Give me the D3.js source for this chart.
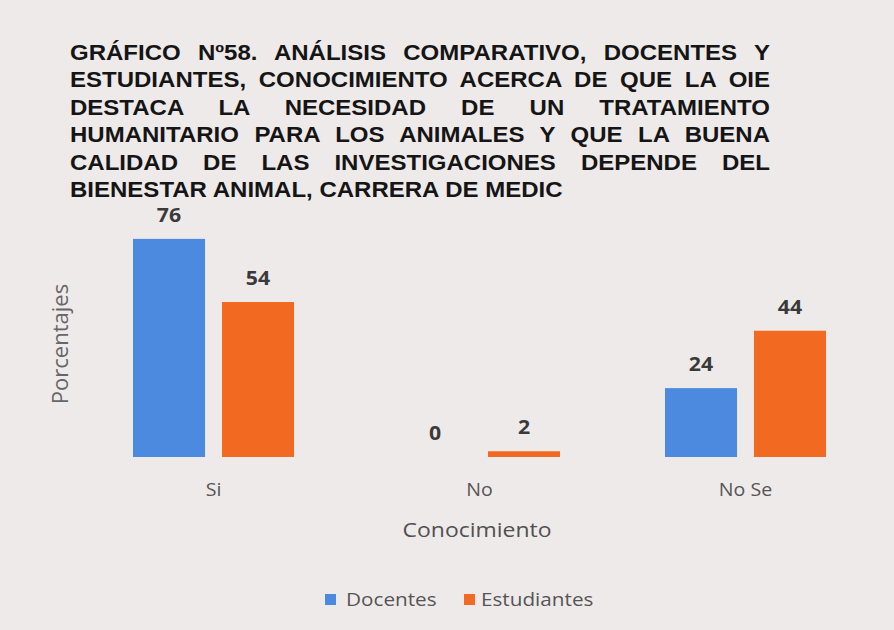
<!DOCTYPE html>
<html>
<head>
<meta charset="utf-8">
<script src="https://cdn.jsdelivr.net/npm/d3@7"></script>
<style>
  body { margin: 0; background: #efeaea; }
  svg { display: block; }
</style>
</head>
<body>
<div id="chart"></div>
<script>
// chart data
var categories = ["Si", "No", "No Se"];
var seriesNames = ["Docentes", "Estudiantes"];
var docentes = [76, 0, 24];
var estudiantes = [54, 2, 44];
var titleLines = [
  "GRÁFICO Nº58. ANÁLISIS COMPARATIVO, DOCENTES Y",
  "ESTUDIANTES, CONOCIMIENTO ACERCA DE QUE LA OIE",
  "DESTACA LA NECESIDAD DE UN TRATAMIENTO",
  "HUMANITARIO PARA LOS ANIMALES Y QUE LA BUENA",
  "CALIDAD DE LAS INVESTIGACIONES DEPENDE DEL",
  "BIENESTAR ANIMAL, CARRERA DE MEDIC"
];

var width = 894, height = 630;
var colors = d3.scaleOrdinal().domain(seriesNames).range(["#4c8ae0", "#f26a22"]);
var labelFont = "'Open Sans', 'Noto Sans', sans-serif";
var stretch = 1.12; // the scanned original is a bit wider than tall

var svg = d3.select("#chart").append("svg")
  .attr("width", width)
  .attr("height", height);

svg.append("rect")
  .attr("width", width).attr("height", height)
  .attr("fill", "#efeaea");

// justified title, last line sets the horizontal scale
var titleLeft = 70, titleRight = 770, lastLineEnd = 563;
var titleTop = 60, lineGap = 27.4;
var title = svg.append("g")
  .attr("font-family", "'Liberation Sans', Arial, sans-serif")
  .attr("font-weight", "bold")
  .attr("font-size", 21.5)
  .attr("fill", "#151515");

var lastText = title.append("text").text(titleLines[titleLines.length - 1]);
var sx = (lastLineEnd - titleLeft) / lastText.node().getComputedTextLength();
lastText.remove();

titleLines.forEach(function(line, i) {
  var t = title.append("text")
    .attr("transform", "translate(" + titleLeft + "," + (titleTop + i * lineGap) + ") scale(" + sx + ",1)")
    .text(line);
  if (i < titleLines.length - 1) {
    var words = line.split(" ");
    var w = t.node().getComputedTextLength();
    var extra = ((titleRight - titleLeft) / sx - w) / (words.length - 1);
    t.attr("word-spacing", extra);
  }
});

// scales
var x0 = d3.scaleBand()
  .domain(categories)
  .range([80.5, 878.5]);

var x1 = d3.scaleBand()
  .domain(seriesNames)
  .range([0, x0.bandwidth()])
  .paddingInner(0.19)
  .paddingOuter(0.59);

var y = d3.scaleLinear()
  .domain([0, 80])
  .range([457, 457 - 80 * 2.87]);

var rows = [];
categories.forEach(function(c, i) {
  rows.push({cat: c, series: "Docentes", value: docentes[i]});
  rows.push({cat: c, series: "Estudiantes", value: estudiantes[i]});
});

function place(x, yy) {
  return "translate(" + x + "," + yy + ") scale(" + stretch + ",1)";
}

// bars
svg.append("g").selectAll("rect")
  .data(rows)
  .enter().append("rect")
    .attr("x", function(d) { return x0(d.cat) + x1(d.series); })
    .attr("y", function(d) { return y(d.value); })
    .attr("width", x1.bandwidth())
    .attr("height", function(d) { return y(0) - y(d.value); })
    .attr("fill", function(d) { return colors(d.series); });

// value labels
svg.append("g").selectAll("text")
  .data(rows)
  .enter().append("text")
    .attr("transform", function(d) {
      return place(x0(d.cat) + x1(d.series) + x1.bandwidth() / 2, y(d.value) - 17);
    })
    .attr("text-anchor", "middle")
    .attr("font-family", labelFont)
    .attr("font-weight", "bold")
    .attr("font-size", 19)
    .attr("fill", "#3a3a3a")
    .text(function(d) { return d.value; });

// category labels
svg.append("g").selectAll("text")
  .data(categories)
  .enter().append("text")
    .attr("transform", function(d) { return place(x0(d) + x0.bandwidth() / 2, 496); })
    .attr("text-anchor", "middle")
    .attr("font-family", labelFont)
    .attr("font-size", 17.5)
    .attr("fill", "#555")
    .text(function(d) { return d; });

// axis titles
svg.append("text")
  .attr("transform", place(477, 537))
  .attr("text-anchor", "middle")
  .attr("font-family", labelFont)
  .attr("font-size", 20.5)
  .attr("fill", "#505050")
  .text("Conocimiento");

svg.append("text")
  .attr("transform", "translate(68,344) rotate(-90)")
  .attr("text-anchor", "middle")
  .attr("font-family", labelFont)
  .attr("font-size", 22)
  .attr("fill", "#666")
  .text("Porcentajes");

// legend
var legend = svg.append("g")
  .attr("font-family", labelFont)
  .attr("font-size", 18.5)
  .attr("fill", "#555");

var legendBox = [325, 464];
var legendText = [346, 481];
seriesNames.forEach(function(s, i) {
  legend.append("rect")
    .attr("x", legendBox[i])
    .attr("y", 594)
    .attr("width", 11)
    .attr("height", 11)
    .attr("fill", colors(s));
  legend.append("text")
    .attr("transform", place(legendText[i], 606))
    .text(s);
});
</script>
</body>
</html>
